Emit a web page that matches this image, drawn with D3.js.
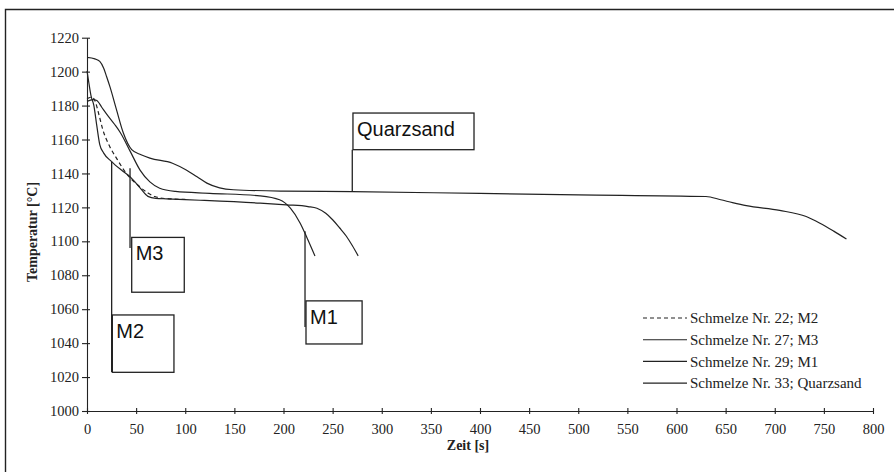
<!DOCTYPE html>
<html>
<head>
<meta charset="utf-8">
<script src="https://cdn.jsdelivr.net/npm/d3@7"></script>
<style>
  body { margin: 0; background: #fff; }
  svg { display: block; }
  .axis text { font-family: "Liberation Serif", "Times New Roman", serif; font-size: 14.5px; fill: #222; }
  .axis path, .axis line { stroke: #222; stroke-width: 1.1; }
  .curve { fill: none; stroke: #222; stroke-width: 1.2; }
  .note text { font-family: "Liberation Sans", Arial, sans-serif; font-size: 20px; fill: #111; }
  .note rect, .note line { fill: none; stroke: #222; stroke-width: 1.3; }
  .legend text { font-family: "Liberation Serif", "Times New Roman", serif; font-size: 15px; fill: #222; }
  .title { font-family: "Liberation Serif", "Times New Roman", serif; font-weight: bold; font-size: 14px; fill: #222; }
</style>
</head>
<body>
<div id="chart"></div>
<script>
// cooling curves, [Zeit s, Temperatur °C]
var m2 = [[0,1184],[5,1185],[8,1183],[12,1175],[16,1166],[23,1156],[30,1149],[40,1140],[52,1133],
          [62,1128.5],[69,1126.4],[80,1125.2],[100,1124.7]];
var m3 = [[0,1200.5],[2,1193],[4,1186],[7,1180],[10,1168],[13,1157],[17,1152],[25,1147],[35,1142],
          [44,1138],[54,1131.5],[62,1126.5],[70,1125.3],[81,1125],[115,1124.2],[176,1122.5],[203,1121.5],
          [225,1120.5],[234,1119.5],[243,1116.5],[250,1112.7],[257,1108],[264,1103],[270,1097.5],[276,1091.4]];
var m1 = [[0,1182.5],[6,1183.5],[10,1183],[15,1179],[20,1175],[28,1169],[34,1164],[44,1153],[54,1142],
          [64,1135],[74,1131.3],[90,1129.4],[125,1128.3],[176,1126.8],[196,1124.5],[207,1119.5],
          [217,1110.7],[224,1102],[232,1091.4]];
var quarz = [[0,1208.4],[8,1207.5],[13,1206],[17,1202],[20,1197],[23.4,1191],[30,1177.6],[37,1163.8],
          [45.5,1154],[55,1151],[64,1149],[87,1146],[101,1142],[112,1138],[122,1134.3],[135,1131.5],
          [149,1130.4],[200,1129.6],[270,1129.3],[400,1128.2],[500,1127.4],[630,1126.4],[645,1124.5],
          [657,1122.8],[671,1121],[705,1118.2],[732,1114.6],[746,1110.7],[760,1106],[773,1101.3]];

var legendLabels = ["Schmelze Nr. 22; M2", "Schmelze Nr. 27; M3", "Schmelze Nr. 29; M1", "Schmelze Nr. 33; Quarzsand"];
var xTicks = [0,50,100,150,200,250,300,350,400,450,500,550,600,650,700,750,800];
var yTicks = [1000,1020,1040,1060,1080,1100,1120,1140,1160,1180,1200,1220];

// callouts: label, leader [t, T from, T to], box [t0, t1, T top, T bottom]
var noteLabels = ["Quarzsand", "M3", "M2", "M1"];
var noteLeaders = [[270, 1129.3, 1154], [43.8, 1143, 1096], [25.1, 1147, 1023], [221.9, 1106, 1049.5]];
var noteBoxes = [[270.7, 393.9, 1175.6, 1154], [45.5, 99, 1102.3, 1070], [25.8, 88.5, 1056.6, 1022.8], [222.9, 280, 1064.9, 1039.5]];

var W = 894, H = 472;
var margin = {top: 37.7, right: 21, bottom: 61, left: 87},
    width = W - margin.left - margin.right,
    height = H - margin.top - margin.bottom;

var svg = d3.select("#chart").append("svg")
    .attr("width", W)
    .attr("height", H);

// outer frame (only top and left edges show in the scan)
svg.append("path")
    .attr("d", "M5.5,472 V9.5 H894")
    .attr("fill", "none")
    .attr("stroke", "#222")
    .attr("stroke-width", 1.4);

var g = svg.append("g")
    .attr("transform", "translate(" + margin.left + "," + margin.top + ")");

var x = d3.scaleLinear().domain([0, 800]).range([0, width]);
var y = d3.scaleLinear().domain([1000, 1220]).range([height, 0]);

// x axis
var xAxis = g.append("g")
    .attr("class", "axis")
    .attr("transform", "translate(0," + height + ")")
    .call(d3.axisBottom(x).tickValues(xTicks).tickFormat(d3.format("d"))
        .tickSize(3).tickSizeOuter(0).tickPadding(10));
xAxis.selectAll(".tick line").attr("y1", -3);

// y axis
var yAxis = g.append("g")
    .attr("class", "axis")
    .call(d3.axisLeft(y).tickValues(yTicks).tickFormat(d3.format("d"))
        .tickSize(5).tickSizeOuter(0).tickPadding(3));
yAxis.selectAll(".tick line").attr("x1", 3);

g.append("text")
    .attr("class", "title")
    .attr("x", width / 2 - 12)
    .attr("y", height + 39)
    .attr("text-anchor", "middle")
    .text("Zeit [s]");

g.append("text")
    .attr("class", "title")
    .attr("transform", "translate(" + (-50) + "," + (232 - margin.top) + ") rotate(-90)")
    .attr("text-anchor", "middle")
    .text("Temperatur [°C]");

// curves
var line = d3.line()
    .x(function(d) { return x(d[0]); })
    .y(function(d) { return y(d[1]); })
    .curve(d3.curveMonotoneX);

var series = [m2, m3, m1, quarz];
var dashes = ["4,3", null, null, null];

g.selectAll(".curve")
    .data(series)
    .enter().append("path")
    .attr("class", "curve")
    .attr("d", line)
    .attr("stroke-dasharray", function(d, i) { return dashes[i]; });

// callouts
var notes = g.selectAll(".note")
    .data(noteLabels)
    .enter().append("g")
    .attr("class", "note");

notes.append("line")
    .attr("x1", function(d, i) { return x(noteLeaders[i][0]); })
    .attr("x2", function(d, i) { return x(noteLeaders[i][0]); })
    .attr("y1", function(d, i) { return y(noteLeaders[i][1]); })
    .attr("y2", function(d, i) { return y(noteLeaders[i][2]); });

notes.append("rect")
    .attr("x", function(d, i) { return x(noteBoxes[i][0]); })
    .attr("y", function(d, i) { return y(noteBoxes[i][2]); })
    .attr("width", function(d, i) { return x(noteBoxes[i][1]) - x(noteBoxes[i][0]); })
    .attr("height", function(d, i) { return y(noteBoxes[i][3]) - y(noteBoxes[i][2]); });

notes.append("text")
    .attr("x", function(d, i) { return x(noteBoxes[i][0]) + 4; })
    .attr("y", function(d, i) { return y(noteBoxes[i][2]) + 23; })
    .text(function(d) { return d; });

// legend
var legend = svg.selectAll(".legend")
    .data(legendLabels)
    .enter().append("g")
    .attr("class", "legend")
    .attr("transform", function(d, i) { return "translate(643," + (318 + i * 21.7) + ")"; });

legend.append("line")
    .attr("x1", 0)
    .attr("x2", 44)
    .attr("stroke", "#222")
    .attr("stroke-width", 1.1)
    .attr("stroke-dasharray", function(d, i) { return dashes[i]; });

legend.append("text")
    .attr("x", 47)
    .attr("dy", "0.35em")
    .text(function(d) { return d; });
</script>
</body>
</html>
